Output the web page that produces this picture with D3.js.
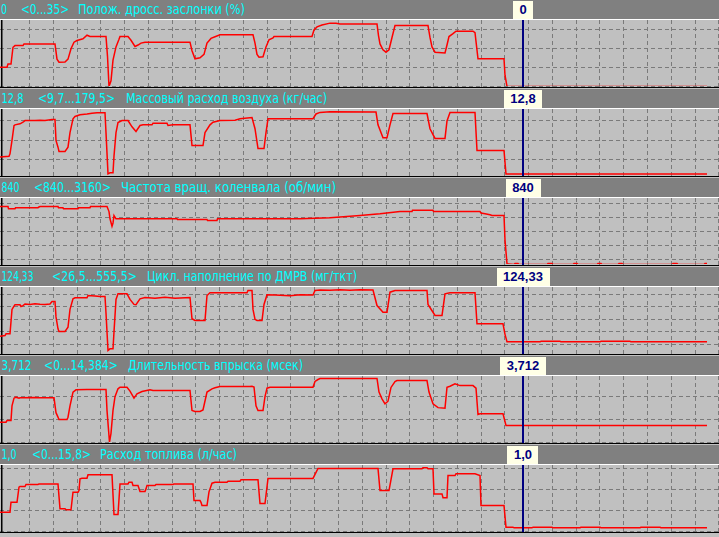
<!DOCTYPE html>
<html><head><meta charset="utf-8">
<script src="https://cdn.jsdelivr.net/npm/d3@7"></script>
<style>html,body{margin:0;padding:0;background:#c0c0c0;overflow:hidden}svg{display:block}</style>
</head><body><svg id="c" width="719" height="537"></svg>
<script>
// ---------- data ----------
const titles = ["Полож. дросс. заслонки (%)", "Массовый расход воздуха (кг/час)", "Частота вращ. коленвала (об/мин)", "Цикл. наполнение по ДМРВ (мг/ткт)", "Длительность впрыска (мсек)", "Расход топлива (л/час)"];
const rangeLabels = ["<0...35>", "<9,7...179,5>", "<840...3160>", "<26,5...555,5>", "<0...14,384>", "<0...15,8>"];
const cursorValues = ["0", "12,8", "840", "124,33", "3,712", "1,0"];
const mins = [0, 9.7, 840, 26.5, 0, 0];
const maxs = [35, 179.5, 3160, 555.5, 14.384, 15.8];
const gridSteps = [10, 50, 500, 100, 5, 5];
const cursorTime = 52.25;       // s
const timeDomain = [0, 71.9];   // s
const timeGridStart = 2.9, timeGridStep = 2.377;

const throttle = [[0,10.2],[0.7,10.2],[0.8,11.9],[1.1,11.9],[1.3,20.8],[1.5,21.7],[2.3,21.7],[2.4,22.6],[5.5,22.6],[5.7,14.5],[5.9,12.9],[6.5,13.0],[6.8,14.5],[7.1,20],[7.4,23.5],[7.7,24.4],[8.3,25.3],[8.7,27.2],[9.0,26.5],[10.6,26.5],[10.75,16],[10.9,0],[11.1,3],[11.3,14],[11.6,21],[11.9,25],[12.0,26.5],[12.8,26.5],[13.1,24.5],[13.5,21.2],[13.8,22],[14.1,23.0],[14.5,23.5],[19.0,23.5],[19.2,19],[19.5,14.7],[20.0,15.2],[20.4,17],[20.7,23],[21.1,25.5],[21.5,26.4],[22.0,27.4],[25.3,27.4],[25.5,23],[25.7,17],[25.9,15.5],[26.3,15.8],[26.6,21],[26.9,24.8],[27.3,25.8],[27.4,26.5],[31.2,26.5],[31.4,30],[31.7,31.6],[32.2,32.6],[33.0,33.6],[33.6,33.6],[34.0,33.2],[37.7,33.2],[37.85,27],[38.0,22.6],[38.3,19.5],[38.6,18.2],[38.9,19.5],[39.2,26],[39.5,32.3],[42.8,32.3],[43.0,26],[43.2,21],[43.5,18.2],[44.5,17.8],[44.7,22],[44.9,26.5],[45.3,28],[45.6,29.3],[47.3,29.3],[47.5,28.5],[47.8,14.7],[50.4,14.7],[50.5,6],[50.7,0],[70.7,0]];

const airflow = [[0,57],[0.9,59],[1.0,65.5],[1.2,100],[1.4,138],[1.5,140],[2.0,142.7],[2.3,146.8],[2.5,151],[3.5,151.5],[4.0,152],[4.5,151],[5.2,153.8],[5.5,153.8],[5.6,100],[5.8,82.5],[5.9,71.5],[6.5,71.5],[6.8,82.5],[7.0,120],[7.3,155.6],[7.5,161.5],[8.0,165.9],[8.7,168],[9.2,170],[9.7,171],[10.5,171],[10.6,120],[10.8,14],[11.0,16.6],[11.3,16.6],[11.4,60],[11.6,120],[11.8,146],[12.2,151.2],[12.8,151.2],[13.2,135],[13.6,122.9],[14.0,138.4],[14.3,140],[15.2,140],[15.3,144.3],[16.7,144.3],[16.8,138.4],[17.3,140],[19.0,140],[19.2,86.9],[20.3,86.9],[20.5,120],[21.0,140],[21.3,146.8],[22.0,151.2],[23.5,152],[24.0,155.6],[25.2,159],[25.5,130],[25.8,79],[26.4,79],[26.6,120],[26.8,156],[31.3,156],[31.6,168],[32.0,172],[33.0,174],[37.6,173],[37.8,140],[38.3,107],[38.7,107],[39.0,140],[39.3,169],[42.7,169],[43.0,130],[43.5,105],[44.5,105],[44.7,150],[45.0,172],[47.5,172],[47.7,74],[50.4,74],[50.6,13.5],[70.7,13.5]];

const rpm = [[0,2879],[0.8,2879],[0.85,2798],[1.5,2798],[1.55,2833],[3.8,2833],[3.85,2854],[4.0,2879],[5.8,2879],[5.85,2833],[6.3,2833],[6.35,2798],[7.8,2798],[7.85,2833],[9.0,2833],[9.05,2879],[10.7,2879],[10.9,2700],[11.0,2446],[11.2,2186],[11.3,2300],[11.4,2562],[11.5,2500],[11.6,2446],[17.7,2446],[17.75,2422],[20.7,2422],[20.75,2387],[21.7,2387],[21.75,2446],[30,2446],[33,2480],[36,2560],[38,2620],[40,2703],[41.2,2703],[41.25,2749],[43.3,2749],[43.35,2703],[48,2703],[48.1,2650],[48.5,2622],[49,2587],[49.2,2562],[50.4,2562],[50.5,1700],[50.7,865],[51.4,840],[51.5,875],[51.8,875],[51.9,840],[54.7,840],[54.8,875],[55.2,875],[55.3,840],[57.3,840],[57.4,875],[57.7,875],[57.8,840],[59.7,840],[59.8,875],[60.1,875],[60.2,840],[61.8,840],[61.9,875],[62.2,875],[62.3,840],[67.2,840],[67.3,875],[67.7,875],[67.8,840],[70.4,840],[70.5,875],[70.7,875]];

const fill = [[0,165],[0.5,170],[0.6,184],[1.0,184],[1.2,380],[1.4,406],[1.5,417],[2.0,417],[2.1,403],[2.3,410],[2.5,423],[3.0,420],[3.5,425],[4.0,422],[4.5,420],[5.0,423],[5.2,443],[5.5,443],[5.6,320],[5.8,224],[5.9,203],[6.5,203],[6.8,237],[7.0,380],[7.3,465],[7.5,473],[8.7,473],[8.8,491],[9.5,488],[10.0,483],[10.5,483],[10.6,350],[10.8,51],[11.0,64],[11.3,64],[11.4,200],[11.6,460],[11.8,505],[12.7,505],[13.0,460],[13.4,420],[13.6,417],[14.0,465],[14.5,475],[15.5,470],[16.5,478],[17.5,470],[19.0,475],[19.2,305],[19.5,291],[20.5,291],[20.7,491],[21.0,513],[24.7,513],[24.8,531],[25.2,531],[25.3,380],[25.5,300],[25.7,291],[26.2,291],[26.4,420],[26.7,497],[27.5,495],[29,490],[30,497],[31.3,495],[31.5,531],[32,535],[33,533],[34,537],[35,533],[36,537],[37.3,535],[37.7,411],[38.3,357],[38.7,357],[39.0,518],[39.5,531],[42.7,531],[42.8,420],[43.3,357],[43.5,331],[44.2,331],[44.5,505],[45.0,513],[47.5,513],[47.7,264],[50.3,264],[50.5,180],[50.7,120],[54,120],[54.1,124],[56,124],[56.1,120],[60,120],[60.1,124],[63,124],[63.1,120],[70.7,120]];

const injection = [[0,4.43],[0.6,4.43],[0.7,4.79],[1.1,4.79],[1.2,8],[1.4,9.66],[1.6,9.88],[1.9,9.66],[2.0,9.74],[3.5,9.8],[4,9.74],[5.4,9.74],[5.6,6.5],[5.8,5.52],[5.9,5.01],[6.7,5.01],[6.8,5.52],[7.0,8],[7.3,10.96],[7.6,11.48],[8.7,11.55],[10.6,11.55],[10.7,7],[10.95,0.07],[11.1,2],[11.3,7],[11.5,10],[11.8,11.7],[12.0,12.05],[12.7,12.05],[13.0,11.2],[13.4,9.66],[13.7,10.6],[14.2,11.1],[15.0,11.48],[15.3,11.33],[19.0,11.33],[19.2,6.97],[19.5,6.76],[20.0,6.76],[20.3,7.1],[20.7,11.0],[21.2,11.7],[21.5,11.92],[22.0,12.2],[25.0,12.2],[25.2,12.27],[25.4,12.1],[25.6,8],[25.8,6.97],[26.3,6.97],[26.5,10],[26.7,11.84],[27.0,12.05],[31.3,12.05],[31.5,13.3],[31.8,13.73],[32.0,13.95],[37.7,13.95],[37.9,11],[38.2,9.52],[38.5,8.43],[38.8,9],[39.1,12],[39.5,13.3],[39.7,13.5],[42.7,13.5],[42.9,11],[43.3,8.43],[43.8,7.6],[44.5,7.48],[44.7,12.05],[45.0,12.27],[45.5,12.8],[46.0,12.4],[47.3,12.4],[47.6,11.84],[47.8,6.1],[48.0,6.25],[50.3,6.25],[50.6,3.7],[70.7,3.7]];

const fuel = [[0,4.62],[1.0,4.62],[1.1,7.0],[1.7,7.0],[1.9,10.6],[2.0,10.77],[2.5,10.77],[2.6,11.25],[3.8,11.25],[3.9,11.4],[5.8,11.4],[6.0,5.43],[6.5,5.43],[6.6,5.2],[7.1,5.2],[7.3,9.4],[7.8,9.4],[7.9,9.8],[8.0,12.6],[8.2,12.76],[8.7,12.76],[8.8,13.57],[11.2,13.57],[11.4,4.07],[11.8,4.07],[12.0,11.4],[12.8,11.4],[12.9,11.8],[13.2,11.8],[13.3,11.0],[13.8,11.0],[14.0,9.58],[14.5,9.58],[14.6,10.2],[14.7,11.0],[15.5,11.0],[15.6,11.25],[17.3,11.25],[17.4,11.4],[19.3,11.4],[19.4,7.42],[20.0,7.42],[20.1,7.0],[20.2,6.22],[20.7,6.22],[20.9,9.5],[21.2,11.57],[21.5,11.8],[22.7,11.8],[22.8,12.04],[24.0,12.04],[24.1,12.38],[25.8,12.38],[26.0,6.7],[26.5,6.7],[26.8,12.7],[31.3,12.7],[31.8,15.1],[37.8,15.1],[38.0,9.8],[38.9,9.8],[39.3,15.0],[42.2,15.0],[42.3,15.25],[42.7,15.25],[42.8,15.0],[43.3,15.0],[43.4,9.0],[44.2,9.0],[44.3,8.07],[44.7,8.07],[44.8,13.4],[45.5,13.4],[45.6,13.8],[47.5,13.8],[48.0,13.4],[48.1,6.22],[50.4,6.22],[50.6,1.03],[51.3,1.03],[51.4,0.89],[53.2,0.89],[53.3,1.03],[55.2,1.03],[55.3,0.89],[58,0.89],[58.1,1.0],[60,1.0],[60.1,0.89],[64,0.89],[64.1,1.0],[66,1.0],[66.1,0.89],[70.7,0.89]];

const series = [throttle, airflow, rpm, fill, injection, fuel];

// ---------- layout (not data) ----------
const W = 719, pitch = 89, headerH = 19, plotOff = 20, plotH = 66;
const textLayout = [
  {vx:1, vw:6,  rx:21, rw:48, tx:78,  tw:167},
  {vx:1.5, vw:22, rx:38, rw:77, tx:126, tw:201},
  {vx:1.5, vw:18, rx:34, rw:77, tx:121, tw:215},
  {vx:1.5, vw:32, rx:52, rw:85, tx:147, tw:210},
  {vx:1.5, vw:30, rx:44, rw:74, tx:128, tw:175},
  {vx:1.5, vw:15, rx:32, rw:59, tx:100, tw:137}
];

const svg = d3.select("#c");
const x = d3.scaleLinear().domain(timeDomain).range([0, W]);
const xGrid = d3.range(timeGridStart, timeDomain[1] + 0.01, timeGridStep);
const defs = svg.append("defs");

series.forEach((data, i) => {
  const T = i * pitch;
  const top = T + plotOff;
  const y = d3.scaleLinear().domain([mins[i], maxs[i]]).range([top + plotH + 0.5, top + 0.5]);
  const g = svg.append("g");

  g.append("rect").attr("x",0).attr("y",T).attr("width",W).attr("height",headerH).attr("fill","#808080");
  g.append("rect").attr("x",0).attr("y",T+headerH).attr("width",W).attr("height",1).attr("fill","#ffffff");
  g.append("rect").attr("x",0).attr("y",top).attr("width",W).attr("height",plotH+1).attr("fill","#c0c0c0");
  g.append("rect").attr("x",0).attr("y",top+plotH+1).attr("width",W).attr("height",1).attr("fill","#000000");
  g.append("rect").attr("x",0).attr("y",top+plotH+2).attr("width",W).attr("height",1).attr("fill","#c0c0c0");

  const step = gridSteps[i];
  const yTicks = d3.range(Math.ceil(mins[i]/step)*step, maxs[i] + 1e-9, step);
  g.selectAll(null).data(yTicks).join("line")
    .attr("x1",0).attr("x2",W)
    .attr("y1",d=>Math.floor(y(d))+0.5).attr("y2",d=>Math.floor(y(d))+0.5)
    .attr("stroke","#7a7a7a").attr("stroke-width",1).attr("stroke-dasharray","4,3")
    .attr("shape-rendering","crispEdges");
  g.selectAll(null).data(xGrid).join("line")
    .attr("x1",d=>Math.round(x(d))+0.5).attr("x2",d=>Math.round(x(d))+0.5)
    .attr("y1",top).attr("y2",top+plotH+1)
    .attr("stroke","#7a7a7a").attr("stroke-width",1).attr("stroke-dasharray","4,3")
    .attr("shape-rendering","crispEdges");

  g.append("rect").attr("x",1).attr("y",top).attr("width",1.5).attr("height",plotH+1).attr("fill","#000");

  defs.append("clipPath").attr("id","clip"+i).append("rect")
    .attr("x",0).attr("y",top).attr("width",W).attr("height",plotH);

  g.append("path").datum(data)
    .attr("clip-path","url(#clip"+i+")")
    .attr("d", d3.line().x(d=>x(d[0])).y(d=>y(d[1])))
    .attr("fill","none").attr("stroke","#ff0000").attr("stroke-width",1.5)
    .attr("stroke-linejoin","miter");

  const cx = x(cursorTime);
  g.append("rect").attr("x",cx-0.5).attr("y",top).attr("width",2).attr("height",plotH+1).attr("fill","#000080");

  const L = textLayout[i];
  const hf = "Tahoma, 'DejaVu Sans', sans-serif";
  const addT = (s, xx, w) => g.append("text").attr("x",xx).attr("y",T+14)
      .attr("font-family",hf).attr("font-size","13.5px").attr("fill","#00ffff")
      .attr("textLength",w).attr("lengthAdjust","spacingAndGlyphs").text(s);
  addT(cursorValues[i], L.vx, L.vw);
  addT(rangeLabels[i], L.rx, L.rw);
  addT(titles[i], L.tx, L.tw);

  const vt = g.append("text").attr("x",cx+0.5).attr("y",T+14).attr("text-anchor","middle")
    .attr("font-family","'Liberation Sans', Arial, sans-serif").attr("font-weight","bold")
    .attr("font-size","13px").attr("fill","#000080").text(cursorValues[i]);
  const bw = vt.node().getComputedTextLength() + 13;
  g.insert("rect", function(){ return vt.node(); })
    .attr("x", Math.round(cx+0.5-bw/2)).attr("y",T+1).attr("width",Math.round(bw)).attr("height",headerH-1)
    .attr("fill","#ffffe6");
});
</script></body></html>
